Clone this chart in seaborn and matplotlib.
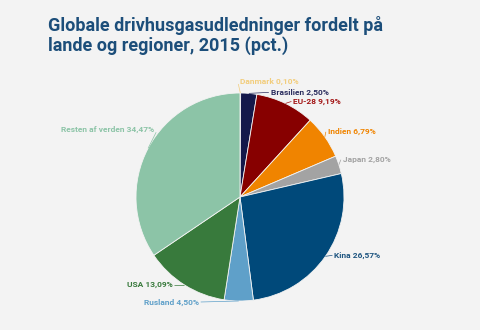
import numpy as np
import matplotlib
matplotlib.use("Agg")
import matplotlib.pyplot as plt
import seaborn as sns

categories = ["Danmark", "Brasilien", "EU-28", "Indien", "Japan", "Kina",
              "Rusland", "USA", "Resten af verden"]
values = [0.10, 2.50, 9.19, 6.79, 2.80, 26.57, 4.50, 13.09, 34.47]
value_labels = ["0,10%", "2,50%", "9,19%", "6,79%", "2,80%", "26,57%",
                "4,50%", "13,09%", "34,47%"]
colors = ["#f6d38a", "#14184a", "#870000", "#f08400", "#a3a3a3", "#00497a",
          "#5fa0c9", "#387a3c", "#8cc4a7"]
text_colors = ["#f2cd7c", "#2a2d5e", "#a31515", "#f08400", "#a3a3a3", "#1e5580",
               "#5fa0c9", "#387a3c", "#8cc4a7"]

sns.set_theme(style="white")
plt.rcParams['font.family'] = ['Roboto', 'DejaVu Sans']

BG = "#f3f3f3"
fig = plt.figure(figsize=(4.8, 3.3), dpi=100, facecolor=BG)
R = 104.0
cx, cy = 240.0, 197.0
ax = fig.add_axes([(cx - R) / 480, (330 - cy - R) / 330, 2 * R / 480, 2 * R / 330])
ax.set_facecolor(BG)

wedges, _ = ax.pie(values, colors=colors, startangle=90, counterclock=False,
                   radius=1.0, wedgeprops=dict(edgecolor=BG, linewidth=0.6))
ax.set_xlim(-1, 1)
ax.set_ylim(-1, 1)
ax.set_aspect("equal")
ax.axis("off")

# label placement: offset (pixels) from the wedge-edge anchor, alignment
offsets = [(0, 12, "left"), (22, 1, "left"), (8, 2, "left"), (3, 5, "left"),
           (4, 5, "left"), (9, 1, "left"), (-40, -1, "right"), (-12, 0, "right"),
           (6, 19, "right")]

cum = np.cumsum([0] + values)
total = cum[-1]
for i, (cat, lab) in enumerate(zip(categories, value_labels)):
    mid = (cum[i] + cum[i + 1]) / 2 / total * 2 * np.pi
    ax0, ay0 = np.sin(mid), np.cos(mid)
    dx, dy, ha = offsets[i]
    tx, ty = ax0 + dx / R, ay0 + dy / R
    lx = tx - 2 / R if ha == "left" else tx + 2 / R
    ly = ty
    if i in (0, 8):
        ly = ty - 3 / R
    ax.plot([ax0, lx], [ay0, ly], color=text_colors[i], lw=0.5, clip_on=False,
            solid_capstyle="butt")
    ax.text(tx, ty, f"{cat} {lab}", ha=ha, va="center", fontsize=6.0,
            fontweight="bold", color=text_colors[i], clip_on=False)

fig.text(0.1, 1 - 16 / 330, "Globale drivhusgasudledninger fordelt på\nlande og regioner, 2015 (pct.)",
         ha="left", va="top", fontsize=13, fontweight="bold", color="#1c4e7a",
         linespacing=1.05)

fig.savefig("out.png", dpi=100, facecolor=BG)
